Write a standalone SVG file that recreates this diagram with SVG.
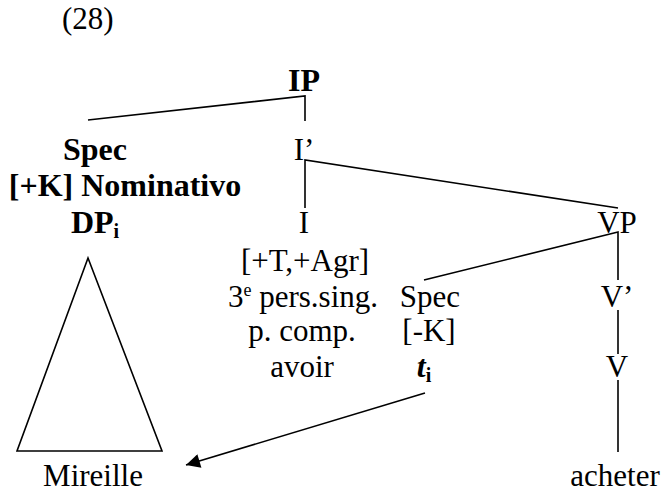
<svg xmlns="http://www.w3.org/2000/svg" width="662" height="492" viewBox="0 0 662 492">
<style>
text{font-family:'Liberation Serif','Tinos','DejaVu Serif',serif;font-size:31px;fill:#000;text-anchor:middle}
.b{font-weight:bold;font-size:32px}
.sub{font-size:20px;font-weight:bold;font-style:normal}
.sup{font-size:18px}
.ln{stroke:#000;stroke-width:1.6;fill:none}
</style>
<defs>
<marker id="ah" viewBox="0 0 10 10" refX="10" refY="5" markerWidth="18" markerHeight="14" markerUnits="userSpaceOnUse" orient="auto">
<path d="M0,0 L10,5 L0,10 z" fill="#000"/>
</marker>
</defs>
<rect width="662" height="492" fill="#fff"/>
<text x="62" y="29" style="text-anchor:start">(28)</text>
<g id="connectors">
<path class="ln" d="M88,120 L305,96 L305,121"/>
<path class="ln" d="M618,208 L305,160 L305,208"/>
<path class="ln" d="M424,280 L618,232 L618,280"/>
<path class="ln" d="M618,310 L618,354"/>
<path class="ln" d="M618,380 L618,452"/>
<path class="ln" d="M425,393 L186,465" marker-end="url(#ah)"/>
</g>
<g id="IP"><text class="b" x="304" y="91">IP</text></g>
<g id="SpecIP">
<text class="b" x="95" y="160">Spec</text>
<text class="b" x="125" y="196">[+K] Nominativo</text>
<text class="b" x="95" y="233">DP<tspan class="sub" dy="5">i</tspan></text>
</g>
<g id="DPtriangle"><path class="ln" d="M88,258 L162,451 L17,451 Z"/></g>
<g id="Mireille"><text x="93" y="486">Mireille</text></g>
<g id="Ibar"><text x="304" y="160">I’</text></g>
<g id="I">
<text x="304" y="233">I</text>
<text x="305" y="271">[+T,+Agr]</text>
<text x="303" y="307">3<tspan class="sup" dy="-11">e</tspan><tspan dy="11"> pers.sing.</tspan></text>
<text x="302" y="341">p. comp.</text>
<text x="302" y="377">avoir</text>
</g>
<g id="VP"><text x="617" y="233">VP</text></g>
<g id="SpecVP">
<text x="430" y="307">Spec</text>
<text x="429" y="341">[-K]</text>
<text class="b" x="424" y="377"><tspan style="font-style:italic">t</tspan><tspan class="sub" dy="5">i</tspan></text>
</g>
<g id="Vbar"><text x="617" y="307">V’</text></g>
<g id="V"><text x="617" y="377">V</text></g>
<g id="acheter"><text x="615" y="486">acheter</text></g>
</svg>
